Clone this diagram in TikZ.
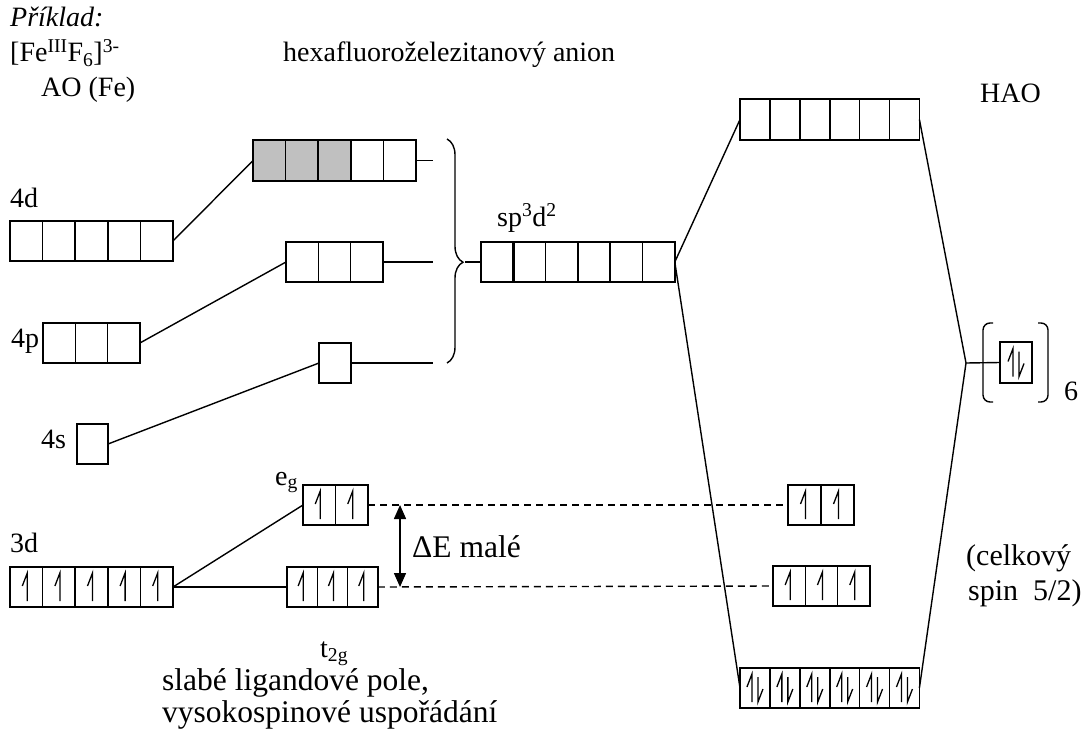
\documentclass[tikz,border=0pt]{standalone}
\usepackage{fontspec}
\setmainfont{Liberation Serif}
\usetikzlibrary{calc,decorations.pathreplacing,arrows.meta}
\definecolor{cellgray}{RGB}{192,192,192}
\newcommand{\orbrow}[6]{%
  \node[orb, anchor=north west, minimum width={#4*#5pt}, minimum height={#6pt}] (#1) at (#2,#3) {};
  \pgfmathtruncatemacro\orbn{#4-1}%
  \ifnum\orbn>0
    \foreach \k in {1,...,\orbn}{\draw[orbline] ($(#1.north west)+(\k*#5,0)$) -- ++(0,#6);}%
  \fi
}
\begin{document}
\begin{tikzpicture}[x=1pt,y=-1pt,
  orb/.style={draw, rectangle, inner sep=0pt, outer sep=0pt, line width=1.6pt},
  orbline/.style={line width=1.6pt},
  conn/.style={line width=1.4pt},
  dsh/.style={line width=1.4pt, dash pattern=on 7pt off 5pt},
  lbl/.style={font=\fontsize{28}{32}\selectfont, inner sep=0pt, anchor=base west},
  big/.style={font=\fontsize{31.5}{36}\selectfont},
  mid/.style={font=\fontsize{30}{34}\selectfont},
  uph/.pic={\draw[line width=1.3pt] (1,14)--(1,-14)--(-4,-1);},
  pairh/.pic={\draw[line width=1.3pt] (-3,14)--(-3,-14)--(-8,-1); \draw[line width=1.3pt] (3,-11)--(3,14)--(8,1);}
]
\useasboundingbox (0,0) rectangle (1091,730);

% gray cells
\fill[cellgray] (253,140) rectangle (350.8,181);

% orbital rows
\orbrow{d4}{10}{221}{5}{32.6}{40}
\orbrow{hd}{253}{140}{5}{32.6}{41}
\orbrow{hp}{286}{242}{3}{32.3}{40}
\orbrow{p4}{43}{323}{3}{32.3}{40}
\orbrow{hs}{319}{343}{1}{32}{40}
\orbrow{s4}{77}{424}{1}{31}{40}
\orbrow{sp}{481}{242}{6}{32.3}{40}
\orbrow{haoT}{740}{99}{6}{29.9}{41}
\orbrow{haoB}{740}{668}{6}{29.9}{40}
\orbrow{haoS}{1000}{342}{1}{32}{41}
\orbrow{eg}{303}{485}{2}{32.5}{40}
\orbrow{d3}{10}{567}{5}{32.6}{40}
\orbrow{tg}{287}{567}{3}{30.3}{40}
\orbrow{egR}{788}{485}{2}{33}{40}
\orbrow{tgR}{773}{566}{3}{32.3}{40}

% thicker dividers in sp3d2
\draw[line width=2.6pt] ($(sp.north west)+(32.3,0)$) -- ++(0,40);
\draw[line width=2.6pt] ($(sp.north west)+(96.9,0)$) -- ++(0,40);

% electrons
\foreach \k in {0,...,4} \pic at ($(d3.west)+(16.3+\k*32.6,0)$) {uph};
\foreach \k in {0,...,2} \pic at ($(tg.west)+(15.15+\k*30.3,0)$) {uph};
\foreach \k in {0,...,1} \pic at ($(eg.west)+(16.25+\k*32.5,0)$) {uph};
\foreach \k in {0,...,2} \pic at ($(tgR.west)+(16.15+\k*32.3,0)$) {uph};
\foreach \k in {0,...,1} \pic at ($(egR.west)+(16.5+\k*33,0)$) {uph};
\foreach \k in {0,...,5} \pic at ($(haoB.west)+(14.95+\k*29.9,0)$) {pairh};
\pic at (haoS.center) {pairh};

% connectors
\coordinate (bt) at (433,160.5);
\coordinate (bm) at (433,262);
\coordinate (bb) at (433,363);
\coordinate (btip) at (465,262);
\coordinate (hj) at (966,363);
\draw[conn] (d4.east) -- (hd.west);
\draw[conn] (p4.east) -- (hp.west);
\draw[conn] (s4.east) -- (hs.west);
\draw[conn] (hd.east) -- (bt);
\draw[conn] (hp.east) -- (bm);
\draw[conn] (hs.east) -- (bb);
\draw[conn, decorate, decoration={brace, amplitude=16pt, aspect=0.55}] (447,139) -- (447,363);
\draw[conn] (btip) -- (sp.west);
\draw[conn] (sp.east) -- (haoT.west);
\draw[conn] (sp.east) -- (haoB.west);
\draw[conn] (haoT.east) -- (hj);
\draw[conn] (haoB.east) -- (hj);
\draw[conn] (hj) -- (haoS.west);
\draw[conn] (d3.east) -- (eg.west);
\draw[conn] (d3.east) -- (tg.west);
\draw[dsh] (eg.east) -- (egR.west);
\draw[dsh] (tg.east) -- (tgR.west);
\coordinate (aT) at (400,505);
\coordinate (aB) at (400,587);
\draw[line width=1.5pt, {Triangle[length=14pt,width=12pt]}-{Triangle[length=14pt,width=12pt]}] (aT) -- (aB);

% parentheses
\draw[conn, rounded corners=7pt] (993,323) -- (983,323) -- (983,402) -- (993,402);
\draw[conn, rounded corners=7pt] (1038,323) -- (1048,323) -- (1048,402) -- (1038,402);

% labels
\node[lbl] (tPr) at (10,27) {\itshape Příklad:};
\node[lbl] (tFe) at (10,62) {[Fe\textsuperscript{III}F\textsubscript{6}]\textsuperscript{3-}};
\node[lbl] (tHex) at (283,62) {hexafluoroželezitanový anion};
\node[lbl] (tAO) at (41,97) {AO (Fe)};
\node[lbl] (tHAO) at (980,103) {HAO};
\node[lbl] (t4d) at (10,207) {4d};
\node[lbl] (tsp) at (497,226) {sp\textsuperscript{3}d\textsuperscript{2}};
\node[lbl] (t4p) at (11,347) {4p};
\node[lbl] (t4s) at (41,448) {4s};
\node[lbl] (teg) at (275,485) {e\textsubscript{g}};
\node[lbl] (t3d) at (10,552) {3d};
\node[lbl, big] (tdE) at (412,557) {ΔE malé};
\node[lbl, mid] (tcel) at (966,565) {(celkový};
\node[lbl, mid] (tspin) at (968,600) {spin\ \ 5/2)};
\node[lbl] (t6) at (1064,400) {6};
\node[lbl] (tt2g) at (320,657) {t\textsubscript{2g}};
\node[lbl, big] (tsl) at (162,690) {slabé ligandové pole,};
\node[lbl, big] (tvy) at (162,722) {vysokospinové uspořádání};
\end{tikzpicture}
\end{document}
